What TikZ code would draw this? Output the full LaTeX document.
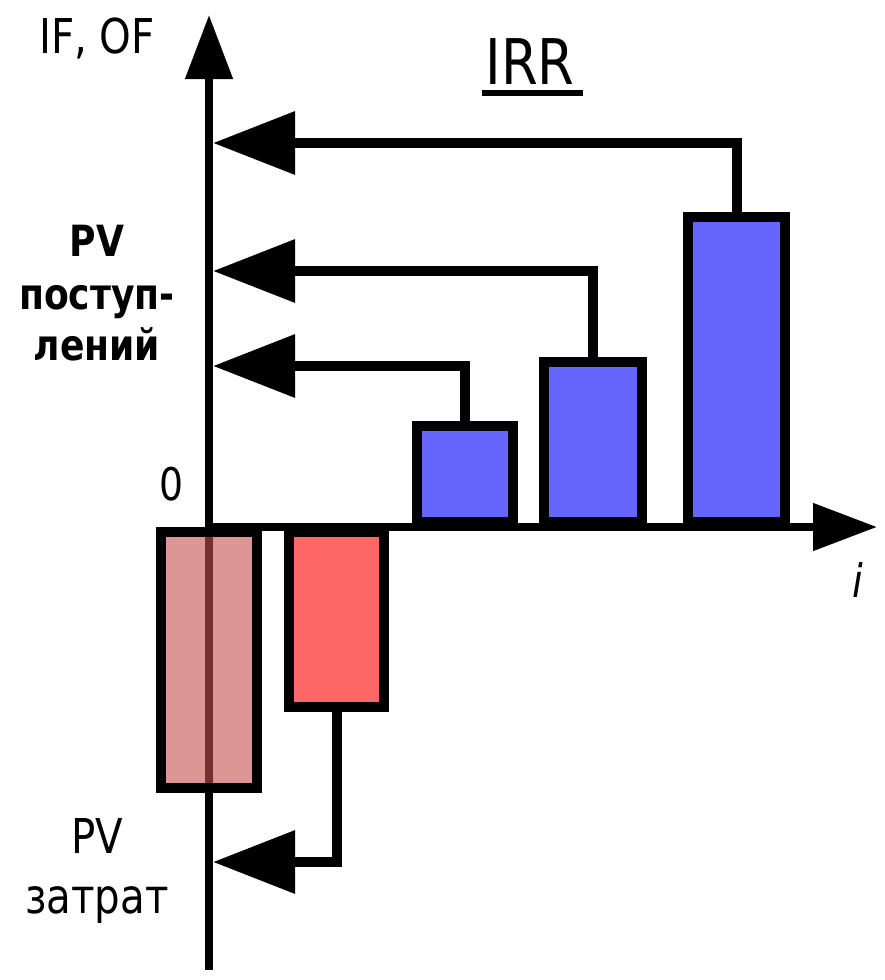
\documentclass[tikz,border=0pt]{standalone}
\usepackage{fontspec}
\setmainfont{DejaVu Sans}[FakeStretch=0.84]
\usetikzlibrary{arrows.meta}

\definecolor{costdim}{RGB}{195,80,78}
\definecolor{costred}{RGB}{255,102,102}
\definecolor{gainblue}{RGB}{102,102,255}

\tikzset{
  axisline/.style={line width=8pt, -{Triangle[length=64pt,width=46pt]}},
  conn/.style={line width=10pt, -{Triangle[length=82pt,width=61pt]}},
  bar/.style={draw=black, line width=10pt, inner sep=0pt, rectangle},
  lbl/.style={inner sep=0pt, anchor=base, text=black},
}

\begin{document}
\begin{tikzpicture}[x=1pt, y=-1pt]
  \useasboundingbox (0,0) rectangle (885,980);

  % axes
  \coordinate (ybot) at (209,970);
  \coordinate (ytop) at (209,15);
  \coordinate (origin) at (209,527);
  \coordinate (xright) at (877,527);
  \draw[axisline] (ybot) -- (ytop);
  \draw[axisline] (origin) -- (xright);

  % outflows (below the time axis)
  \node[bar, fill=costdim, fill opacity=0.6, minimum width=96pt, minimum height=256pt, anchor=north] (c0) at (209,527) {};
  \node[bar, fill=costred, minimum width=95pt, minimum height=175pt, anchor=north] (c1) at (336.5,527) {};

  % inflows (above the time axis)
  \node[bar, fill=gainblue, minimum width=96pt, minimum height=96pt, anchor=south] (g1) at (465,527) {};
  \node[bar, fill=gainblue, minimum width=98pt, minimum height=160pt, anchor=south] (g2) at (593,527) {};
  \node[bar, fill=gainblue, minimum width=97pt, minimum height=305pt, anchor=south] (g3) at (736.5,527) {};

  % discounting connectors onto the vertical axis
  \coordinate (t1) at (213,366);
  \coordinate (t2) at (213,271);
  \coordinate (t3) at (213,143);
  \coordinate (t0) at (213,862);
  \draw[conn] (g1.north) |- (t1);
  \draw[conn] (g2.north) |- (t2);
  \draw[conn] (g3.north) |- (t3);
  \draw[conn] (c1.south) |- (t0);

  % labels
  \node[lbl, font=\fontsize{48}{58}\selectfont] (ylab) at (97,53) {IF, OF};
  \node[lbl, font=\fontsize{63}{75}\selectfont] (irr) at (530,84) {IRR};
  \draw[line width=6pt] ([xshift=-3pt,yshift=-9pt]irr.base west) -- ([xshift=8pt,yshift=-9pt]irr.base east);
  \node[lbl, font=\fontsize{45}{52}\selectfont] (zero) at (172,500) {0};
  \node[lbl, font=\fontsize{46}{55}\itshape] (ilab) at (858,597) {i};

  \node[lbl, font=\fontsize{43}{52}\bfseries] (pvin1) at (97,256) {PV};
  \node[lbl, font=\fontsize{43}{52}\bfseries] (pvin2) at (97,309) {поступ-};
  \node[lbl, font=\fontsize{43}{52}\bfseries] (pvin3) at (97,360) {лений};

  \node[lbl, font=\fontsize{48}{58}\selectfont] (pvout1) at (97,853) {PV};
  \node[lbl, font=\fontsize{48}{58}\selectfont] (pvout2) at (97,913) {затрат};
\end{tikzpicture}
\end{document}
